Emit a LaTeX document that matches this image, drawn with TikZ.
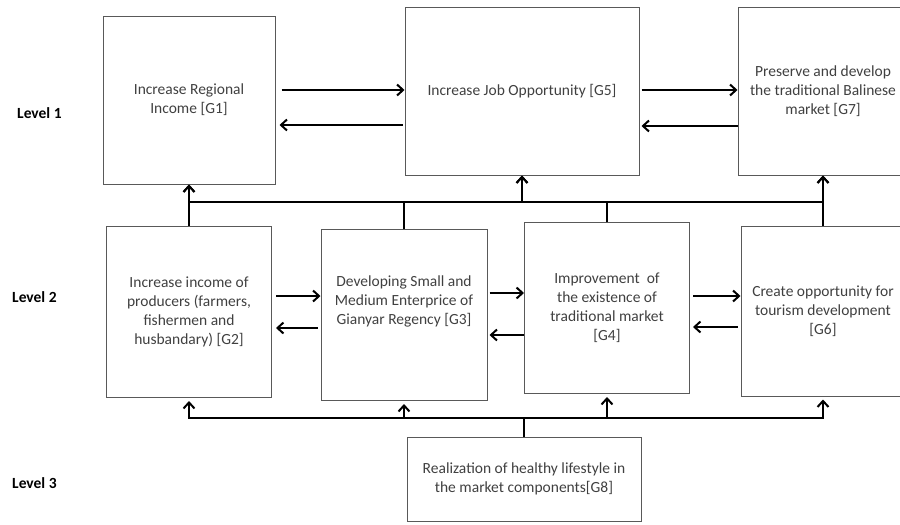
\documentclass[tikz,border=0pt]{standalone}
\usepackage{fontspec}
\setmainfont{Carlito}
\usetikzlibrary{positioning, arrows.meta, calc}

\begin{document}
\begin{tikzpicture}[x=1pt, y=-1pt,
    goal/.style={draw=black!65, line width=1pt, align=center, text=black!75, inner sep=2pt, font=\fontsize{15.5}{19}\selectfont},
    goaltext/.style={align=center, text=black!75, inner sep=0pt, font=\fontsize{15.5}{19}\selectfont},
    arr/.style={line width=2.2pt, -{Straight Barb[length=6pt,width=11pt,line width=2pt]}},
    lvl/.style={anchor=west, inner sep=0pt, font=\fontsize{15.5}{19}\selectfont\bfseries}]
    \useasboundingbox (0,0) rectangle (900,525);

    \node[lvl] (l1) at (17,113) {Level 1};
    \node[lvl] (l2) at (12,297) {Level 2};
    \node[lvl] (l3) at (12,483) {Level 3};

    \node[goal, minimum width=172, minimum height=168] (g1) at (189,100) {Increase Regional\\Income [G1]};
    \node[goal, minimum width=234, minimum height=168] (g5) at (522,91) {Increase Job Opportunity [G5]};
    \node[goal, minimum width=170, minimum height=168] (g7) at (823,91) {Preserve and develop\\the traditional Balinese\\market [G7]};
    \node[goal, minimum width=165, minimum height=171] (g2) at (189,312) {Increase income of\\producers (farmers,\\fishermen and\\husbandary) [G2]};
    \node[goal, minimum width=166, minimum height=171] (g3) at (404,315) {};
    \node[goaltext] (g3txt) at (404,301) {Developing Small and\\Medium Enterprice of\\Gianyar Regency [G3]};
    \node[goal, minimum width=165, minimum height=171] (g4) at (607,308) {Improvement~ of\\the existence of\\traditional market\\{[G4]}};
    \node[goal, minimum width=164, minimum height=170] (g6) at (823,311) {Create opportunity for\\tourism development\\{[G6]}};
    \node[goal, minimum width=234, minimum height=84] (g8) at (524,479) {Realization of healthy lifestyle in\\the market components[G8]};

    \coordinate (bus1) at (0,202);
    \coordinate (bus2) at (0,418);

    % level 1 links
    \draw[arr, shorten <=6pt] (g1.east |- 0,90) -- (g5.west |- 0,90);
    \draw[arr, shorten <=2pt, shorten >=4pt] (g5.west |- 0,125) -- (g1.east |- 0,125);
    \draw[arr, shorten <=2pt] (g5.east |- 0,90) -- (g7.west |- 0,90);
    \draw[arr, shorten >=2pt] (g7.west |- 0,126) -- (g5.east |- 0,126);

    % level 2 links
    \draw[arr, shorten <=4pt] (g2.east |- 0,296) -- (g3.west |- 0,296);
    \draw[arr, shorten <=3pt, shorten >=4pt] (g3.west |- 0,328) -- (g2.east |- 0,328);
    \draw[arr, shorten <=2pt] (g3.east |- 0,293) -- (g4.west |- 0,293);
    \draw[arr, shorten >=2pt] (g4.west |- 0,335) -- (g3.east |- 0,335);
    \draw[arr, shorten <=3pt] (g4.east |- 0,296) -- (g6.west |- 0,296);
    \draw[arr, shorten <=3pt, shorten >=3pt] (g6.west |- 0,327) -- (g4.east |- 0,327);

    % level 2 -> level 1
    \draw[arr] (g2.north) -- (g1.south);
    \draw[arr] (g3.north) |- (g1.south |- bus1) -- (g1.south);
    \draw[arr] (g3.north) |- (g5.south |- bus1) -- (g5.south);
    \draw[arr] (g4.north) |- (g5.south |- bus1) -- (g5.south);
    \draw[arr] (g4.north) |- (g7.south |- bus1) -- (g7.south);
    \draw[arr] (g6.north) -- (g7.south);

    % level 3 -> level 2
    \draw[arr, shorten >=3pt] (g8.north) |- (g2.south |- bus2) -- (g2.south);
    \draw[arr, shorten >=3pt] (g8.north) |- (g3.south |- bus2) -- (g3.south);
    \draw[arr, shorten >=3pt] (g8.north) |- (g4.south |- bus2) -- (g4.south);
    \draw[arr, shorten >=3pt] (g8.north) |- (g6.south |- bus2) -- (g6.south);
\end{tikzpicture}
\end{document}
